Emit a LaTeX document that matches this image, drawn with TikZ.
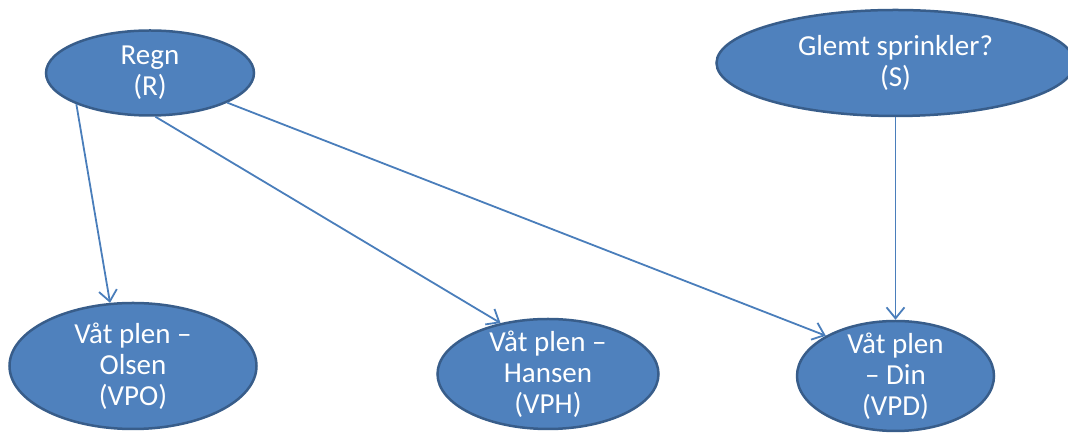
\documentclass[tikz,border=0pt]{standalone}
\usepackage{fontspec}
\setmainfont{Carlito}
\usetikzlibrary{shapes.geometric,arrows.meta}
\definecolor{nodefill}{HTML}{4F81BD}
\definecolor{nodeline}{HTML}{385D8A}
\definecolor{edgecol}{HTML}{4A7EBB}
\begin{document}
\begin{tikzpicture}[x=1pt,y=1pt,
  netnode/.style={ellipse, fill=nodefill, draw=nodeline, line width=2.5pt,
    inner sep=-12pt, align=center, text=white,
    font=\fontsize{29pt}{31pt}\selectfont},
  link/.style={draw=edgecol, line width=1.8pt,
    -{Straight Barb[length=11pt,width=18pt,line width=1.8pt]}}]
  \useasboundingbox (0,0) rectangle (1068,435);
  \begin{scope}
    \clip (0,0) rectangle (1068,435);
    \node[netnode, minimum width=208pt, minimum height=85pt] (R) at (150,362) {Regn\\(R)};
    \node[netnode, minimum width=358pt, minimum height=106pt] (S) at (895.5,372) {Glemt sprinkler?\\(S)};
    \node[netnode, minimum width=247pt, minimum height=126pt] (VPO) at (133,69) {Våt plen –\\Olsen\\(VPO)};
    \node[netnode, minimum width=221pt, minimum height=110pt] (VPH) at (548,61) {Våt plen –\\Hansen\\(VPH)};
    \node[netnode, minimum width=197pt, minimum height=110pt] (VPD) at (895.5,59) {Våt plen\\– Din\\(VPD)};
  \end{scope}
  \draw[link] (R.203.7) -- (VPO.110.6);
  \draw[link] (R.277) -- (VPH.133);
  \draw[link] (R.339.6) -- (VPD.150.7);
  \draw[link] (S) -- (VPD);
\end{tikzpicture}
\end{document}
